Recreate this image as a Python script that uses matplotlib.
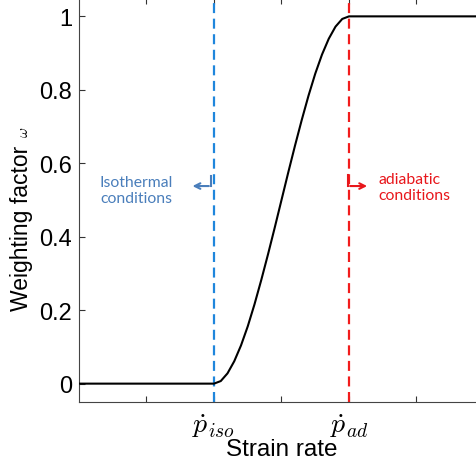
import numpy as np
import matplotlib
matplotlib.use('Agg')
import matplotlib.pyplot as plt

# ------------------------------------------------------------------------------
# data
# ------------------------------------------------------------------------------
strain_rate = [0.0, 2.0, 2.1, 2.2, 2.3, 2.4, 2.5, 2.6, 2.7, 2.8, 2.9, 3.0,
               3.1, 3.2, 3.3, 3.4, 3.5, 3.6, 3.7, 3.8, 3.9, 4.0, 6.0]
weight = [0.0, 0.0, 0.007, 0.028, 0.061, 0.104, 0.156, 0.216, 0.282, 0.352,
          0.425, 0.5, 0.575, 0.648, 0.718, 0.784, 0.844, 0.896, 0.939, 0.972,
          0.993, 1.0, 1.0]

p_iso = 2.0
p_ad = 4.0
xticks = [1, 2, 3, 4, 5]
xticklabels = ['', r'$\dot{p}_{iso}$', '', r'$\dot{p}_{ad}$', '']
yticks = [0, 0.2, 0.4, 0.6, 0.8, 1]
yticklabels = ['0', '0.2', '0.4', '0.6', '0.8', '1']

# ------------------------------------------------------------------------------
plt.rcParams['font.family'] = ['Liberation Sans', 'DejaVu Sans']
plt.rcParams['mathtext.fontset'] = 'cm'

W, H = 477, 464
fig = plt.figure(figsize=(W/100, H/100), dpi=100)
ax = fig.add_axes([79/W, (H-403)/H, (484-79)/W, 404/H])

ax.plot(strain_rate, weight, 'k', linewidth=1.5, zorder=3)
ax.axvline(p_iso, color='#1f86dc', linewidth=1.6, dashes=(4.5, 2.5), zorder=2)
ax.axvline(p_ad, color='#f21c1c', linewidth=1.6, dashes=(4.5, 2.5), zorder=2)

ax.set_xlim(0, 6)
ax.set_ylim(-0.05, 1.05)
ax.set_xticks(xticks)
ax.set_xticklabels(xticklabels, fontsize=20)
ax.set_yticks(yticks)
ax.set_yticklabels(yticklabels, fontsize=17)
ax.tick_params(direction='in', length=4, width=0.8, color='#333333', top=True, right=True)
ax.tick_params(axis='x', pad=7)
ax.tick_params(axis='y', pad=5)
for s in ax.spines.values():
    s.set_color('#444444')
    s.set_linewidth(0.8)

ax.set_xlabel('Strain rate', fontsize=17.5, labelpad=-1)
fig.text(22/W, 1 - 228/H, 'Weighting factor', rotation=90, fontsize=16.5,
         ha='center', va='center')
fig.text(24/W, 1 - 132/H, r'$\omega$', rotation=90, fontsize=11,
         ha='center', va='center')

# annotations
blue_txt = '#4a7ebb'
red_txt = '#e8161b'
ax.text(0.31, 0.527, 'Isothermal\nconditions', color=blue_txt, fontsize=11.3,
        family='Lato', ha='left', va='center', linespacing=1.2)
ax.plot([1.96, 1.96], [0.565, 0.538], color=blue_txt, linewidth=1.5)
ax.annotate('', xy=(1.64, 0.538), xytext=(1.965, 0.538),
            arrowprops=dict(arrowstyle='->', color=blue_txt, lw=1.5))

ax.text(4.43, 0.535, 'adiabatic\nconditions', color=red_txt, fontsize=11.3,
        family='Lato', ha='left', va='center', linespacing=1.2)
ax.plot([3.98, 3.98], [0.568, 0.538], color=red_txt, linewidth=1.5)
ax.annotate('', xy=(4.31, 0.538), xytext=(3.975, 0.538),
            arrowprops=dict(arrowstyle='->', color=red_txt, lw=1.5))

plt.savefig('out.png', dpi=100)
